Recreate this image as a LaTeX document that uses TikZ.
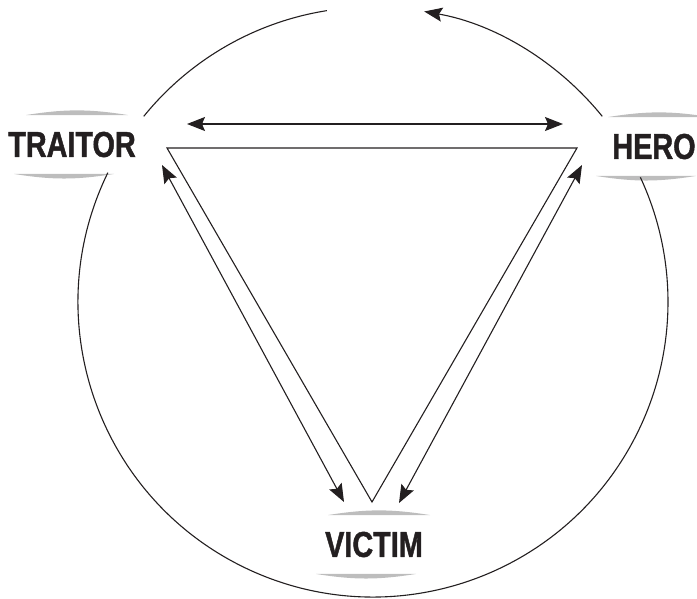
\documentclass[tikz,border=0pt]{standalone}
\usepackage{fontspec}
\setmainfont{Liberation Sans}
\newfontfamily\rolefont[UprightFont={* Bold},FakeStretch=0.8,FakeBold=1.2]{Liberation Sans}
\usepackage{xcolor}
\usetikzlibrary{arrows.meta,calc,positioning}
\definecolor{inkblack}{HTML}{231F20}
\definecolor{lensgray}{HTML}{BDBDBD}
\tikzset{
  role/.style={font=\fontsize{36}{36}\rolefont,text=inkblack,inner xsep=0pt,inner ysep=16.5pt},
  rim/.style={line width=1.1pt,draw=inkblack},
  link/.style={line width=1.1pt,draw=inkblack,{Stealth[length=18pt,width=14pt,inset=3pt]}-{Stealth[length=18pt,width=14pt,inset=3pt]}},
}

\begin{document}
\begin{tikzpicture}[x=1pt,y=1pt]
\useasboundingbox (0,0) rectangle (697,-599);
\coordinate (c) at (373,-302);
% the three roles
\node[role] (traitor) at (72,-144.5) {TRAITOR};
\node[role] (hero) at (654,-146.5) {HERO};
\node[role] (victim) at (374,-544.5) {VICTIM};
\foreach \n in {traitor,hero,victim}{
  \fill[lensgray] ($(\n.north)+(-46,0)$) to[bend left=9] ($(\n.north)+(56,0)$) -- cycle;
  \fill[lensgray] ($(\n.south)+(-58,0)$) to[bend right=9] ($(\n.south)+(42,0)$) -- cycle;
}
% outer circle
\draw[rim] ($(c)+(99:295)$) arc[start angle=99,end angle=141,radius=295];
\draw[rim] ($(c)+(154:295)$) arc[start angle=154,end angle=385,radius=295];
\draw[rim,-{Stealth[length=18pt,width=14pt,inset=3pt]}] ($(c)+(39:295)$) arc[start angle=39,end angle=80,radius=295];
% triangle
\coordinate (tl) at (167,-148);
\coordinate (tr) at (577,-148);
\coordinate (bt) at (372,-502);
\draw[rim] (tl) -- (tr) -- (bt) -- cycle;
% arrows between roles
\coordinate (th) at (187,-124);
\coordinate (ht) at (563,-124);
\coordinate (tv) at (162,-165);
\coordinate (vt) at (344,-502);
\coordinate (hv) at (582,-165);
\coordinate (vh) at (399,-503);
\draw[link] (th) -- (ht);
\draw[link] (tv) -- (vt);
\draw[link] (hv) -- (vh);
\end{tikzpicture}
\end{document}
